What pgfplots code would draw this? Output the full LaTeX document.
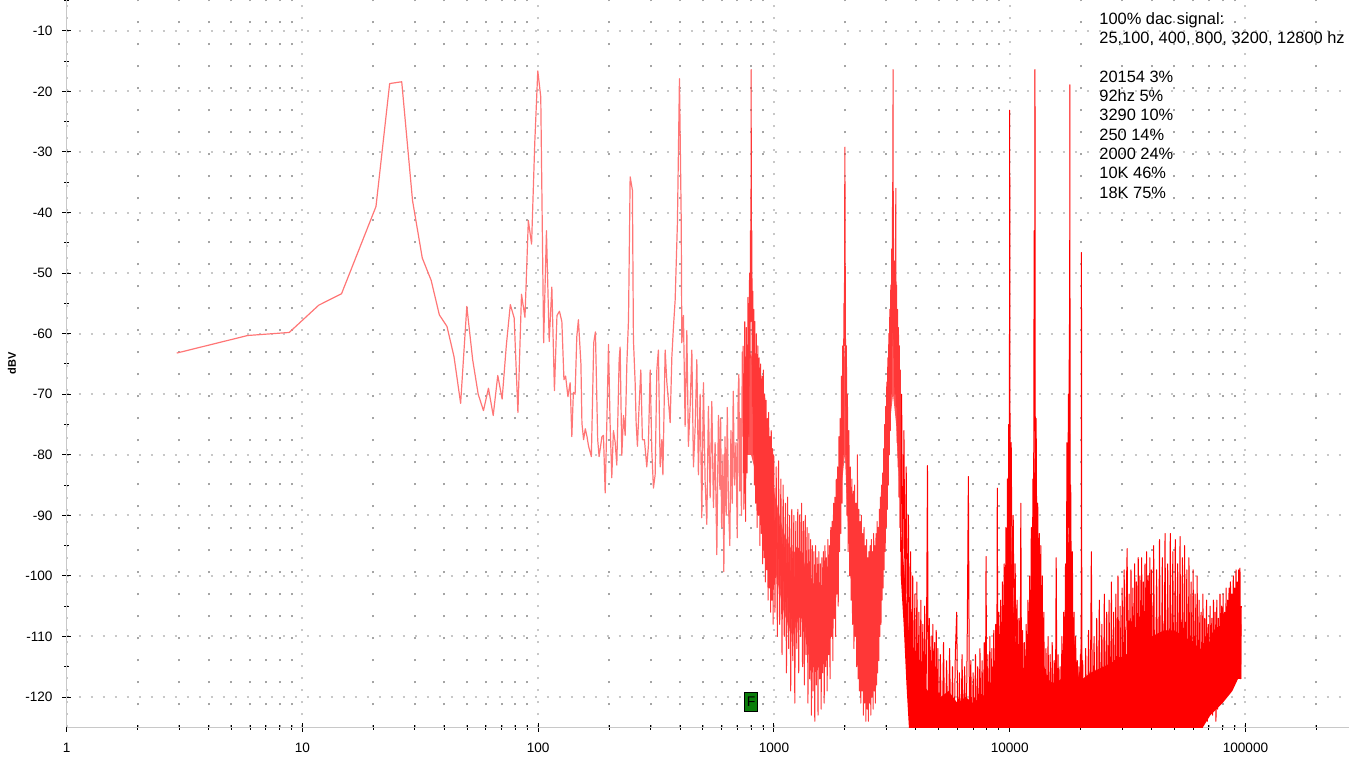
\documentclass[border=0pt]{standalone}
\usepackage{fontspec}
\setmainfont{Liberation Sans}
\usepackage{pgfplots}
\pgfplotsset{compat=1.18}
\definecolor{gridmaj}{RGB}{200,200,200}
\definecolor{gridmin}{RGB}{165,165,165}
\definecolor{lightred}{RGB}{255,118,118}
\definecolor{midred}{RGB}{255,55,55}
\definecolor{corered}{RGB}{255,85,85}
\definecolor{fgreen}{RGB}{10,125,10}
\begin{document}
\begin{tikzpicture}
\begin{axis}[
  at={(0pt,0pt)}, anchor=south west, scale only axis,
  width=641.15pt, height=363.65pt,
  xmode=log, xmin=1, xmax=275000, ymin=-125, ymax=-4.9,
  axis x line=bottom, axis y line=left,
  axis line style={draw=gridmaj, line width=0.6pt, -},
  xtick={1,10,100,1000,10000,100000},
  xticklabels={1,10,100,1000,10000,100000},
  minor xtick={2,3,4,5,6,7,8,9,20,30,40,50,60,70,80,90,200,300,400,500,600,700,800,900,2000,3000,4000,5000,6000,7000,8000,9000,20000,30000,40000,50000,60000,70000,80000,90000,200000},
  ytick={-120,-110,-100,-90,-80,-70,-60,-50,-40,-30,-20,-10},
  yticklabels={-120,-110,-100,-90,-80,-70,-60,-50,-40,-30,-20,-10},
  minor ytick={-115,-105,-95,-85,-75,-65,-55,-45,-35,-25,-15,-5},
  tick align=center,
  major tick length=4.5pt, minor tick length=2.25pt,
  every tick/.style={black, line width=0.5pt},
  xmajorgrids, ymajorgrids, xminorgrids,
  major grid style={draw=gridmaj, line width=1pt, dash pattern=on 1pt off 5pt},
  minor grid style={draw=gridmin, line width=1pt, dash pattern=on 1pt off 10pt},
  tick label style={font=\fontsize{6.8}{7.5}\selectfont},
  yticklabel style={xshift=-1.3pt},
  xticklabel style={yshift=-2.2pt},
  clip=true,
]
% low frequency part
\addplot[lightred, line width=0.6pt, line join=round] coordinates {
(2.93,-63.2)(5.86,-60.3)(8.79,-59.8)(11.72,-55.3)(14.65,-53.4)(17.58,-45.6)(20.51,-39.0)(23.44,-18.7)(26.37,-18.4)(29.30,-38.0)(32.23,-47.5)(35.16,-51.2)(38.09,-56.9)(41.02,-58.8)(43.95,-63.8)(46.88,-71.5)(49.80,-55.5)(52.73,-64.3)(55.66,-70.0)(58.59,-72.7)(61.52,-69.0)(64.45,-73.5)(67.38,-66.9)(70.31,-70.8)(73.24,-62.0)(76.17,-55.2)(79.10,-57.4)(82.03,-73.0)(84.96,-53.5)(87.89,-57.3)(90.82,-41.3)(93.75,-45.2)(96.68,-28.6)(99.61,-16.6)(102.54,-20.9)(105.47,-61.5)(108.40,-43.0)(111.33,-61.3)(114.26,-52.3)(117.19,-69.4)(120.12,-57.0)(123.05,-56.3)(126.0,-58)(128.6,-67.6)(130.7,-67)(133.7,-70.4)(136.6,-68.1)(138.9,-77)(141.0,-69.7)(143.4,-70)(145.8,-60.5)(148.1,-57.7)(151.8,-65)(153.3,-74.8)(155.8,-77.5)(158.4,-75.7)(161.1,-77)(163.6,-78.6)(168.1,-80.3)(172.0,-61.5)(174.9,-59.7)(178.8,-77.5)(181.3,-80.3)(186.4,-77)(189.2,-76.8)(192.4,-86.3)(195.6,-74.5)(198.7,-61.8)(201.9,-75)(205.2,-83.8)(208.5,-76)(212.0,-77.9)(215.5,-81.7)(220.5,-64.3)(222.6,-62.2)(226.3,-80.1)(230.0,-73.5)(233.9,-76.8)(237.8,-64.8)(241.6,-57.7)(245.5,-34.1)(251.0,-36.3)(253.5,-61)(257.8,-68.1)(260.3,-74.7)(263.6,-78.6)(267.9,-72)(272.5,-66)(276.7,-77.5)(282.2,-77.5)(288.8,-82)(293.3,-78.6)(298.5,-66)(303.5,-79.6)(308.3,-85.5)(313.4,-83.3)(318.6,-66)(323.5,-62.7)(329.1,-82)(334.6,-77.5)(338.0,-83.3)(345.6,-62.7)(351.3,-68)(356.7,-71)(362.9,-74.7)(369.0,-63.8)(374.8,-58.9)(381.0,-54.5)(389.6,-41.7)(397.4,-17.9)(404.3,-41.2)(406.7,-61.5)(413.2,-57)(420.0,-75.3)(427.1,-59.5)(433.7,-78.6)(441.1,-72)(448.5,-62.7)(455.6,-82)(463.2,-75.5)(470.9,-64.3)(478.1,-83.3)(486.3,-70)(494.4,-90.4)(502.2,-68.1)(510.6,-84.4)(519.1,-91.5)(527.3,-72)(536.2,-87.1)(545.1,-71.2)(553.8,-88.7)(563.0,-78)(572.4,-96.5)(581.4,-73.5)(590.0,-85.7)(594,-73.9)(600,-92)(608,-80)(613,-99.3)(620,-77)(627,-90)(634,-72.2)(641,-88)(650,-95)(657,-76)(665,-88)(672,-69.5)(680,-85)(690,-78)(699,-93.7)(705,-70)(710,-66.7)(716,-86)(722,-74)(728,-90)(734,-63)(740,-77)
};
% dense core 760 Hz - 3450 Hz
\addplot[fill=corered, draw=none] coordinates {
(760,-66)(800,-63)(850,-70)(900,-76)(1000,-86)(1100,-93)(1200,-96)(1300,-96)(1400,-100)(1500,-102)(1600,-103)(1700,-101)(1800,-96)(1900,-85)(1950,-75)(2000,-60)(2050,-80)(2100,-90)(2200,-95)(2300,-100)(2400,-104)(2500,-106)(2600,-104)(2700,-103)(2800,-98)(2900,-92)(3000,-80)(3100,-66)(3200,-50)(3300,-62)(3450,-80)
(3450,-90)(3300,-75)(3200,-70)(3100,-75)(3000,-86)(2900,-96)(2800,-104)(2700,-112)(2600,-115)(2500,-117)(2400,-115)(2300,-112)(2200,-106)(2100,-98)(2050,-90)(2000,-80)(1950,-84)(1900,-92)(1800,-104)(1700,-110)(1600,-113)(1500,-114)(1400,-113)(1300,-106)(1200,-110)(1100,-106)(1000,-98)(900,-88)(800,-80)(760,-80)
} -- cycle;
% 740 Hz - 3450 Hz
\addplot[midred, line width=0.5pt, line join=round] coordinates {
(740,-62)(746,-89)(752,-58)(758,-91)(764,-59)(770,-83)(776,-54)(782,-77)(788,-50)(792,-64)(795,-43)(798,-58)(800.5,-16.4)(803,-52)(806,-43)(810,-72)(814,-53)(818,-80)(822,-56)(826,-85)(830,-58)(836,-88)(842,-60)(848,-92)(854,-62)(860,-90)(866,-64)(872,-95)(878,-65)(884,-93)(890,-67)(896,-98)(902,-66)(908,-97)(914,-70)(920,-101)(926,-71)(932,-99)(938,-74)(944,-104)(950,-73)(956,-102)(962,-77)(968,-106)(974,-76)(980,-104)(986,-79)(992,-108)(998,-80)(1010,-106)(1022,-82)(1034,-110)(1046,-81)(1058,-108)(1070,-84)(1082,-113)(1094,-85)(1106,-110)(1118,-88)(1130,-116)(1142,-87)(1154,-112)(1166,-90)(1178,-119)(1190,-89)(1202,-114)(1214,-90)(1226,-121)(1238,-91)(1250,-112)(1262,-89)(1274,-116)(1286,-90)(1298,-110)(1310,-88)(1322,-115)(1334,-91)(1346,-118)(1358,-90)(1370,-113)(1382,-92)(1394,-121)(1406,-93)(1418,-117)(1430,-94)(1442,-123)(1454,-95)(1466,-119)(1478,-96)(1490,-124)(1502,-95)(1514,-118)(1526,-97)(1538,-123)(1550,-96)(1562,-117)(1574,-98)(1586,-122)(1598,-97)(1610,-116)(1622,-96)(1634,-121)(1646,-95)(1658,-115)(1670,-97)(1682,-119)(1694,-94)(1706,-113)(1718,-95)(1730,-117)(1742,-92)(1754,-110)(1766,-91)(1778,-114)(1790,-88)(1802,-107)(1814,-87)(1826,-110)(1838,-84)(1850,-103)(1862,-82)(1874,-105)(1886,-77)(1898,-96)(1910,-74)(1922,-93)(1934,-67)(1946,-88)(1958,-62)(1970,-80)(1980,-55)(1990,-62)(1995,-40)(2000,-29.2)(2005,-45)(2012,-62)(2020,-80)(2030,-62)(2040,-90)(2050,-70)(2065,-96)(2080,-76)(2095,-100)(2110,-82)(2125,-104)(2140,-84)(2155,-108)(2170,-86)(2185,-112)(2200,-85)(2215,-110)(2230,-88)(2245,-115)(2260,-80)(2275,-117)(2290,-89)(2305,-119)(2320,-91)(2335,-121)(2350,-90)(2365,-119)(2380,-93)(2395,-123)(2410,-92)(2425,-121)(2440,-95)(2455,-124)(2470,-94)(2485,-122)(2500,-97)(2515,-124)(2530,-96)(2545,-121)(2560,-95)(2575,-123)(2590,-94)(2605,-120)(2620,-96)(2635,-122)(2650,-93)(2665,-119)(2680,-95)(2695,-121)(2710,-93)(2725,-118)(2740,-91)(2755,-116)(2770,-92)(2785,-114)(2800,-89)(2815,-110)(2830,-87)(2845,-108)(2860,-85)(2875,-104)(2890,-83)(2905,-102)(2920,-79)(2935,-99)(2950,-75)(2965,-96)(2980,-72)(2995,-92)(3010,-68)(3025,-89)(3040,-64)(3055,-85)(3070,-60)(3085,-80)(3100,-56)(3115,-76)(3130,-52)(3145,-70)(3160,-46)(3175,-62)(3185,-35)(3195,-50)(3200,-16.4)(3210,-45)(3225,-64)(3240,-48)(3255,-70)(3270,-50)(3290,-36)(3300,-72)(3315,-52)(3330,-78)(3345,-56)(3360,-82)(3375,-59)(3390,-87)(3405,-62)(3420,-92)(3435,-66)(3450,-96)
};
% solid noise floor 3450 Hz - 96 kHz
\addplot[fill=red, draw=none] coordinates {
(3450,-92)(3550,-98)(3650,-104)(3750,-110)(3850,-114)(3950,-116)(4100,-117)(4300,-118)(4500,-119)(4800,-118)(5100,-120)(5500,-119)(6000,-121)(6500,-120)(7000,-121)(7500,-120)(8000,-121)(8500,-119)(9000,-117)(9300,-114)(9600,-108)(9800,-98)(9950,-85)(10000,-70)(10060,-85)(10200,-98)(10400,-106)(10700,-113)(11100,-117)(11600,-118)(12000,-113)(12300,-104)(12550,-95)(12750,-80)(12800,-65)(12870,-85)(13100,-100)(13400,-108)(13800,-114)(14500,-117)(15500,-118)(16500,-117)(17000,-112)(17400,-104)(17800,-92)(18000,-72)(18100,-92)(18500,-106)(19000,-113)(19700,-117)(20154,-110)(20400,-117)(22000,-116)(25000,-115)(28000,-114)(31000,-113)(35000,-112)(40000,-110)(45000,-109)(50000,-109)(55000,-110)(60000,-111)(64000,-112)(70000,-112)(75000,-112)(80000,-111)(85000,-110)(90000,-109)(96000,-108)
(96000,-117)(93000,-117)(88000,-119)(80000,-121)(71000,-123)(66000,-125)(64000,-130)(3800,-130)(3650,-118)(3550,-108)(3450,-100)
} -- cycle;
% 3450 Hz - 96 kHz
\addplot[red, line width=0.5pt, line join=round] coordinates {
(3450,-96)(3480,-70)(3520,-100)(3560,-76)(3600,-106)(3640,-82)(3680,-112)(3720,-90)(3760,-118)(3800,-96)(3840,-124)(3880,-100)(3920,-130)(3960,-103)(4000,-130)(4040,-101)(4080,-130)(4120,-106)(4160,-130)(4200,-104)(4240,-130)(4280,-108)(4320,-130)(4360,-105)(4400,-130)(4440,-109)(4480,-81.8)(4520,-130)(4560,-107)(4600,-130)(4640,-110)(4680,-130)(4720,-108)(4760,-130)(4800,-111)(4840,-130)(4880,-109)(4920,-130)(4960,-112)(5000,-130)
(5080,-113)(5160,-130)(5240,-111)(5320,-130)(5400,-114)(5480,-130)(5560,-112)(5640,-130)(5720,-115)(5800,-130)(5880,-113)(5960,-106)(6040,-130)(6120,-116)(6200,-130)(6280,-113)(6360,-130)(6440,-115)(6520,-130)(6600,-112)(6680,-83.6)(6760,-130)(6840,-114)(6920,-130)(7000,-116)(7080,-130)(7160,-113)(7240,-130)(7320,-115)(7400,-130)(7480,-112)(7560,-130)(7640,-114)(7720,-130)(7800,-111)(7880,-130)(7940,-96.8)(8000,-130)(8080,-113)(8160,-130)(8240,-110)(8320,-130)(8400,-112)(8480,-130)(8560,-109)(8640,-130)(8720,-108)(8800,-130)(8860,-85.5)(8920,-130)(9000,-106)(9080,-128)(9160,-104)(9240,-126)(9320,-101)(9400,-124)(9480,-98)(9560,-120)(9640,-92)(9720,-115)(9780,-84)(9840,-108)(9900,-75)(9950,-96)(9980,-62)(10000,-23.1)(10020,-65)
(10050,-90)(10150,-78)(10250,-104)(10350,-90)(10450,-112)(10550,-98)(10650,-118)(10750,-104)(10850,-124)(10950,-107)(11050,-130)(11150,-88)(11250,-130)(11350,-109)(11450,-130)(11550,-111)(11650,-130)(11750,-108)(11850,-130)(11950,-104)(12050,-128)(12150,-100)(12250,-120)(12350,-92)(12450,-110)(12550,-84)(12620,-100)(12700,-43)(12750,-76)(12800,-16.4)(12850,-98)(12950,-74)(13050,-104)(13150,-88)(13250,-112)(13350,-93)(13450,-118)(13550,-95)(13650,-124)(13750,-100)(13850,-130)(13950,-106)(14100,-130)(14250,-112)(14400,-130)(14550,-110)(14700,-130)(14850,-113)(15000,-130)(15150,-111)(15300,-130)(15450,-114)(15600,-130)(15750,-97)(15900,-130)(16050,-113)(16200,-130)(16350,-115)(16500,-130)(16650,-110)(16800,-128)(16950,-106)(17100,-124)(17250,-98)(17400,-118)(17480,-78)(17600,-100)(17750,-70)(17850,-92)(17900,-58.5)(17950,-80)(18000,-18.9)(18050,-96)(18150,-85)(18300,-112)(18450,-96)(18600,-124)(18750,-106)(18900,-130)(19050,-110)(19200,-130)(19350,-114)(19500,-130)(19650,-115)(19800,-130)(19950,-113)(20100,-130)(20154,-46.6)(20250,-130)
(20400,-114)(20700,-130)(21000,-112)(21300,-130)(21600,-109)(21900,-130)(22200,-96)(22500,-130)(22800,-110)(23100,-130)(23400,-107)(23700,-130)(24000,-104)(24300,-130)(24600,-108)(24900,-130)(25200,-103)(25500,-130)(25800,-106)(26100,-130)(26400,-104)(26700,-130)(27000,-101)(27300,-130)(27600,-106)(27900,-130)(28200,-103)(28500,-130)(28800,-100)(29100,-130)(29400,-105)(29700,-130)(30000,-102)(30300,-130)(30600,-99)(30900,-130)(31200,-104)(31500,-95.5)(31800,-130)(32100,-103)(32400,-130)(32700,-99)(33000,-130)(33300,-102)(33600,-130)(33900,-98)(34200,-130)(34500,-101)(34800,-130)(35100,-97)(35400,-130)(35700,-100)(36000,-130)(36300,-97)(36600,-130)(36900,-101)(37200,-130)(37500,-98)(37800,-130)(38100,-96)(38400,-130)(38700,-100)(39000,-130)(39300,-97)(39600,-130)(39900,-99)
(40200,-130)(40800,-95)(41400,-130)(42000,-99)(42600,-130)(43200,-94)(43800,-130)(44400,-97)(45000,-130)(45600,-93)(46200,-130)(46800,-98)(47400,-130)(48000,-93)(48600,-130)(49200,-96)(49800,-130)(50400,-94)(51000,-130)(51600,-98)(52200,-130)(52800,-93.5)(53400,-130)(54000,-97)(54600,-130)(55200,-95)(55800,-130)(56400,-99)(57000,-130)(57600,-97)(58200,-130)(58800,-101)(59400,-130)(60000,-99)(60600,-130)(61200,-103)(61800,-130)(62400,-100)(63000,-130)(63600,-104)(64200,-128)(64800,-106)(65400,-126)(66000,-103)(66600,-124)(67200,-107)(67800,-122)(68400,-104)(69000,-124)(69600,-108)(70200,-123)(70800,-105)(71400,-121)(72000,-107)(72600,-123)(73200,-104)(73800,-121)(74400,-106)(75000,-124)(75600,-104)(76200,-122)(76800,-107)(77400,-120)(78000,-103)(78600,-121)(79200,-105)(79800,-119)(80400,-103)(81000,-120)(81600,-106)(82200,-118)(82800,-102)(83400,-119)(84000,-104)(84600,-117)(85200,-102)(85800,-119)(86400,-101)(87000,-118)(87600,-103)(88200,-116)(88800,-100)(89400,-117)(90000,-102)(90600,-115)(91200,-99)(91800,-117)(92400,-101)(93000,-115)(93600,-99)(94200,-116)(94800,-98.7)(95400,-117)(96000,-105)
};
\node[draw=black, fill=fgreen, line width=0.5pt, minimum width=6.7pt, minimum height=9.2pt, inner sep=0pt, font=\fontsize{7}{7}\selectfont] at (axis cs:800.6,-120.8) {F};
\end{axis}
\node[rotate=90, font=\bfseries\fontsize{5.5}{6}\selectfont] at (-27.35pt,182.15pt) {dBV};
\node[anchor=north west, inner sep=0pt, align=left, font=\fontsize{8.2}{9.65}\selectfont] at (516.15pt,357.6pt) {100\% dac signal:\\25,100, 400, 800, 3200, 12800 hz\\\mbox{}\\20154 3\%\\92hz 5\%\\3290 10\%\\250 14\%\\2000 24\%\\10K 46\%\\18K 75\%};
\pgfresetboundingbox
\path[use as bounding box] (-33.35pt,-14.85pt) rectangle (641.15pt,363.65pt);
\end{tikzpicture}
\end{document}
